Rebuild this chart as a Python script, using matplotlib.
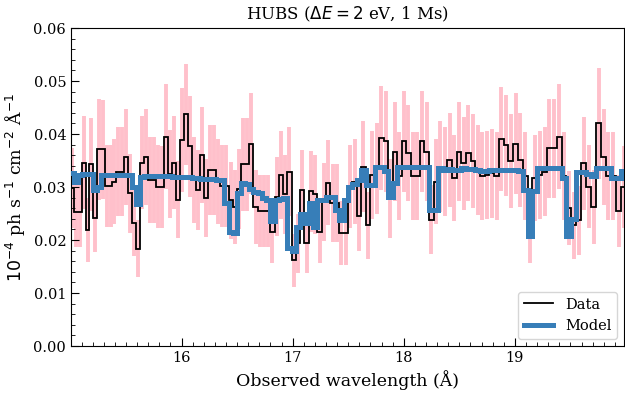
import matplotlib
matplotlib.use("Agg")
import matplotlib.pyplot as plt
import numpy as np
from matplotlib.ticker import MultipleLocator, FormatStrFormatter

plt.rcParams['font.family'] = 'DejaVu Serif'

# binned spectrum (constant resolving power bins between 15 and 20 A)
wave_min, wave_max = 15.0, 20.0

flux = [
    0.0298, 0.0252, 0.0252, 0.0346, 0.0219, 0.0343, 0.0241, 0.0371, 0.0371, 0.0302,
    0.0302, 0.0310, 0.0329, 0.0329, 0.0357, 0.0288, 0.0232, 0.0184, 0.0346, 0.0357,
    0.0313, 0.0313, 0.0301, 0.0300, 0.0395, 0.0324, 0.0346, 0.0276, 0.0389, 0.0437,
    0.0377, 0.0313, 0.0294, 0.0360, 0.0279, 0.0332, 0.0332, 0.0310, 0.0302, 0.0302,
    0.0275, 0.0262, 0.0296, 0.0343, 0.0343, 0.0382, 0.0263, 0.0254, 0.0254, 0.0254,
    0.0216, 0.0282, 0.0323, 0.0286, 0.0329, 0.0162, 0.0194, 0.0294, 0.0194, 0.0292,
    0.0286, 0.0216, 0.0272, 0.0308, 0.0270, 0.0270, 0.0213, 0.0213, 0.0301, 0.0310,
    0.0245, 0.0338, 0.0228, 0.0323, 0.0335, 0.0392, 0.0386, 0.0278, 0.0367, 0.0320,
    0.0386, 0.0364, 0.0320, 0.0320, 0.0386, 0.0367, 0.0238, 0.0310, 0.0338, 0.0329,
    0.0351, 0.0317, 0.0367, 0.0345, 0.0364, 0.0349, 0.0332, 0.0320, 0.0323, 0.0326,
    0.0320, 0.0390, 0.0379, 0.0349, 0.0382, 0.0351, 0.0320, 0.0218, 0.0317, 0.0323,
    0.0329, 0.0373, 0.0373, 0.0395, 0.0320, 0.0260, 0.0228, 0.0237, 0.0345, 0.0301,
    0.0263, 0.0420, 0.0357, 0.0320, 0.0320, 0.0254, 0.0300,
]

flux_err = [
    0.0075, 0.0066, 0.0066, 0.0088, 0.0060, 0.0088, 0.0064, 0.0095, 0.0094, 0.0078,
    0.0078, 0.0080, 0.0084, 0.0084, 0.0090, 0.0075, 0.0063, 0.0054, 0.0088, 0.0090,
    0.0081, 0.0081, 0.0078, 0.0078, 0.0099, 0.0083, 0.0088, 0.0073, 0.0098, 0.0095,
    0.0095, 0.0081, 0.0076, 0.0091, 0.0073, 0.0085, 0.0085, 0.0080, 0.0078, 0.0078,
    0.0073, 0.0070, 0.0076, 0.0088, 0.0088, 0.0096, 0.0070, 0.0068, 0.0068, 0.0068,
    0.0060, 0.0074, 0.0083, 0.0075, 0.0084, 0.0050, 0.0056, 0.0076, 0.0056, 0.0076,
    0.0075, 0.0060, 0.0073, 0.0080, 0.0073, 0.0073, 0.0060, 0.0060, 0.0078, 0.0080,
    0.0066, 0.0086, 0.0063, 0.0083, 0.0085, 0.0098, 0.0096, 0.0074, 0.0093, 0.0083,
    0.0096, 0.0091, 0.0083, 0.0083, 0.0096, 0.0093, 0.0065, 0.0080, 0.0086, 0.0084,
    0.0089, 0.0081, 0.0093, 0.0088, 0.0091, 0.0089, 0.0085, 0.0083, 0.0083, 0.0084,
    0.0083, 0.0098, 0.0095, 0.0089, 0.0096, 0.0089, 0.0083, 0.0061, 0.0081, 0.0083,
    0.0084, 0.0094, 0.0094, 0.0099, 0.0083, 0.0070, 0.0063, 0.0065, 0.0088, 0.0078,
    0.0070, 0.0105, 0.0090, 0.0083, 0.0083, 0.0068, 0.0078,
]

model = [
    0.0326, 0.0310, 0.0322, 0.0324, 0.0325, 0.0324, 0.0295, 0.0300, 0.0322, 0.0323,
    0.0323, 0.0323, 0.0323, 0.0322, 0.0322, 0.0322, 0.0300, 0.0268, 0.0318, 0.0321,
    0.0321, 0.0321, 0.0320, 0.0320, 0.0320, 0.0320, 0.0319, 0.0319, 0.0319, 0.0318,
    0.0318, 0.0317, 0.0317, 0.0316, 0.0316, 0.0315, 0.0315, 0.0314, 0.0313, 0.0270,
    0.0215, 0.0213, 0.0288, 0.0307, 0.0305, 0.0296, 0.0291, 0.0288, 0.0280, 0.0276,
    0.0236, 0.0276, 0.0278, 0.0280, 0.0185, 0.0180, 0.0225, 0.0250, 0.0232, 0.0270,
    0.0225, 0.0276, 0.0276, 0.0282, 0.0282, 0.0257, 0.0238, 0.0276, 0.0300, 0.0305,
    0.0313, 0.0332, 0.0304, 0.0304, 0.0338, 0.0338, 0.0330, 0.0282, 0.0307, 0.0338,
    0.0338, 0.0338, 0.0338, 0.0337, 0.0337, 0.0337, 0.0257, 0.0257, 0.0335, 0.0333,
    0.0334, 0.0333, 0.0333, 0.0335, 0.0334, 0.0334, 0.0333, 0.0330, 0.0330, 0.0332,
    0.0332, 0.0333, 0.0333, 0.0332, 0.0332, 0.0331, 0.0295, 0.0207, 0.0292, 0.0335,
    0.0335, 0.0335, 0.0335, 0.0335, 0.0317, 0.0207, 0.0240, 0.0329, 0.0329, 0.0325,
    0.0320, 0.0335, 0.0335, 0.0335, 0.0317, 0.0317, 0.0330,
]

flux = np.array(flux)
flux_err = np.array(flux_err)
model = np.array(model)

edges = np.geomspace(wave_min, wave_max, len(flux) + 1)
centers = 0.5 * (edges[1:] + edges[:-1])

fig = plt.figure(figsize=(6.25, 3.95), dpi=100)
ax = fig.add_axes([0.1136, 0.124, 0.8854, 0.805])

ax.errorbar(centers, flux, yerr=flux_err, fmt='none', ecolor='pink',
            elinewidth=2.8, zorder=1)
ax.stairs(flux, edges, baseline=None, color='black', lw=1.3,
          label='Data', zorder=2)
ax.stairs(model, edges, baseline=None, color='#377eb8', lw=3.6,
          label='Model', zorder=3)

ax.set_xlim(15.005, 19.985)
ax.set_ylim(0, 0.06)
ax.xaxis.set_major_locator(MultipleLocator(1))
ax.xaxis.set_minor_locator(MultipleLocator(0.1))
ax.yaxis.set_major_locator(MultipleLocator(0.01))
ax.yaxis.set_minor_locator(MultipleLocator(0.002))
ax.yaxis.set_major_formatter(FormatStrFormatter('%.2f'))
ax.tick_params(which='both', direction='in', labelsize=10.5)
ax.tick_params(which='major', length=6)
ax.tick_params(which='minor', length=3)

ax.set_xlabel('Observed wavelength (Å)', fontsize=12.5)
ax.set_ylabel(r'$10^{-4}$ ph s$^{-1}$ cm$^{-2}$ Å$^{-1}$', fontsize=12.5)
ax.set_title(r'HUBS ($\Delta E = 2$ eV, 1 Ms)', fontsize=12)

ax.legend(loc='lower right', fontsize=10.5)

fig.savefig('out.png', dpi=100)
